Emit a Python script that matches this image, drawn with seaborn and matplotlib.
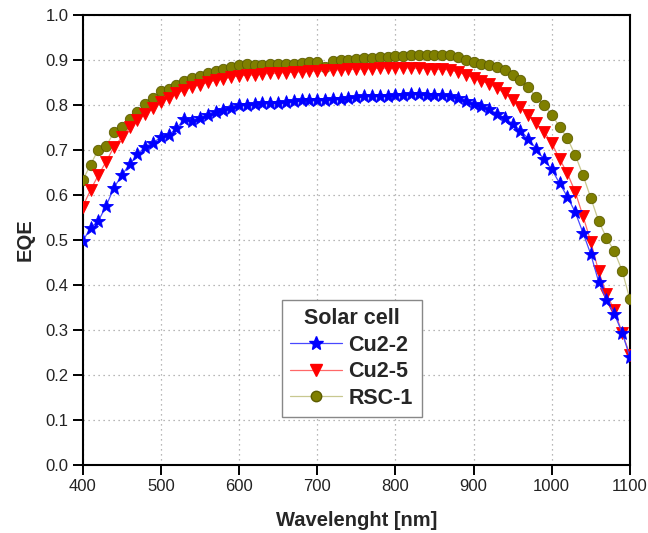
import matplotlib
matplotlib.use("Agg")
import matplotlib.pyplot as plt
from matplotlib.lines import Line2D
import seaborn as sns
import pandas as pd

wavelength = list(range(400, 1101, 10))

cu2_2 = [0.497, 0.527, 0.542, 0.576, 0.616, 0.644, 0.668, 0.690, 0.707, 0.716,
         0.728, 0.733, 0.748, 0.768, 0.764, 0.770, 0.778, 0.785, 0.789, 0.793,
         0.800, 0.801, 0.802, 0.804, 0.805, 0.805, 0.807, 0.809, 0.810, 0.810,
         0.811, 0.812, 0.814, 0.813, 0.815, 0.817, 0.819, 0.820, 0.820, 0.821,
         0.822, 0.823, 0.825, 0.824, 0.823, 0.822, 0.822, 0.819, 0.815, 0.809,
         0.803, 0.797, 0.790, 0.781, 0.771, 0.758, 0.743, 0.725, 0.703, 0.679,
         0.657, 0.626, 0.596, 0.562, 0.516, 0.468, 0.407, 0.367, 0.336, 0.294,
         0.240]

cu2_5 = [0.574, 0.611, 0.644, 0.674, 0.707, 0.728, 0.750, 0.767, 0.781, 0.793,
         0.807, 0.815, 0.826, 0.833, 0.840, 0.845, 0.850, 0.855, 0.858, 0.862,
         0.865, 0.866, 0.867, 0.869, 0.870, 0.871, 0.872, 0.873, 0.874, 0.875,
         0.876, 0.877, 0.878, 0.878, 0.879, 0.880, 0.880, 0.881, 0.882, 0.882,
         0.883, 0.883, 0.882, 0.882, 0.881, 0.880, 0.879, 0.878, 0.873, 0.867,
         0.860, 0.853, 0.847, 0.837, 0.826, 0.812, 0.796, 0.778, 0.759, 0.741,
         0.715, 0.680, 0.648, 0.607, 0.553, 0.496, 0.430, 0.381, 0.344, 0.294,
         0.245]

rsc_1 = [0.633, 0.667, 0.701, 0.709, 0.739, 0.750, 0.769, 0.785, 0.802, 0.815,
         0.830, 0.835, 0.844, 0.853, 0.860, 0.865, 0.870, 0.875, 0.880, 0.884,
         0.888, 0.890, 0.888, 0.889, 0.890, 0.890, 0.891, 0.892, 0.893, 0.895,
         0.896, 0.885, 0.898, 0.900, 0.901, 0.902, 0.904, 0.905, 0.906, 0.907,
         0.908, 0.909, 0.910, 0.910, 0.910, 0.910, 0.910, 0.910, 0.906, 0.900,
         0.896, 0.892, 0.889, 0.885, 0.878, 0.867, 0.856, 0.839, 0.818, 0.800,
         0.778, 0.752, 0.726, 0.689, 0.644, 0.593, 0.542, 0.505, 0.475, 0.432,
         0.368]

x_ticks = [400, 500, 600, 700, 800, 900, 1000, 1100]
y_ticks = [0.0, 0.1, 0.2, 0.3, 0.4, 0.5, 0.6, 0.7, 0.8, 0.9, 1.0]

df = pd.DataFrame({"wl": wavelength, "Cu2-2": cu2_2, "Cu2-5": cu2_5, "RSC-1": rsc_1})

# marker styles per series
styles = {
    "Cu2-2": dict(color="#4848ff", marker="*", markersize=10,
                  markerfacecolor="#0000ff", markeredgecolor="#0000ff"),
    "Cu2-5": dict(color="#ff6868", marker="v", markersize=9,
                  markerfacecolor="#ff0000", markeredgecolor="#ff0000"),
    "RSC-1": dict(color="#c8c890", marker="o", markersize=7.5,
                  markerfacecolor="#7f7f00", markeredgecolor="#5c5c00"),
}

sns.set_style("white")
plt.rcParams["font.family"] = ["Liberation Sans", "DejaVu Sans"]

fig = plt.figure(figsize=(6.48, 5.33), dpi=100)
ax = fig.add_axes([0.1276, 0.1276, 0.8445, 0.8443])

# back to front so the blue stars sit on top
for z, name in enumerate(["RSC-1", "Cu2-5", "Cu2-2"]):
    sns.lineplot(data=df, x="wl", y=name, ax=ax, lw=0.9,
                 markeredgewidth=0.6, zorder=3 + z, **styles[name])

ax.set_xlim(400, 1100)
ax.set_ylim(0, 1.0)
ax.set_xticks(x_ticks)
ax.set_yticks(y_ticks)
ax.set_yticklabels([f"{v:.1f}" for v in y_ticks])
ax.tick_params(axis="both", direction="out", length=7, width=1.4,
               labelsize=12, colors="black", labelcolor="#222222", pad=3,
               bottom=True, left=True, top=False, right=False)

ax.grid(True, linestyle=(0, (1, 3)), color="#a0a0a0", lw=0.9)
for s in ax.spines.values():
    s.set_color("black")
    s.set_linewidth(1.5)

ax.set_xlabel("Wavelenght [nm]", fontsize=14.5, fontweight="bold", labelpad=12)
ax.set_ylabel("EQE", fontsize=14.5, fontweight="bold", labelpad=8)

handles = [Line2D([], [], lw=0.9, **styles[n]) for n in ["Cu2-2", "Cu2-5", "RSC-1"]]
leg = ax.legend(handles, ["Cu2-2", "Cu2-5", "RSC-1"], title="Solar cell",
                loc="upper left", bbox_to_anchor=(0.364, 0.367),
                prop={"size": 15.5, "weight": "bold"},
                title_fontproperties={"size": 15.5, "weight": "bold"},
                frameon=True, fancybox=False, edgecolor="#888888",
                framealpha=1, handlelength=2.4, handletextpad=0.3,
                labelspacing=0.25, borderpad=0.4, borderaxespad=0)
leg.get_frame().set_linewidth(1.0)
leg.set_zorder(10)

fig.savefig("out.png", dpi=100)
